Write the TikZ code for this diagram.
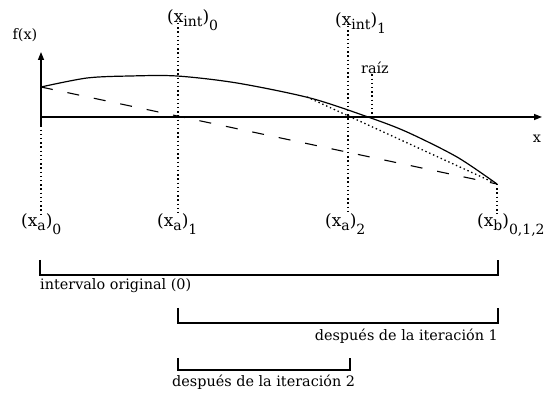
\documentclass[tikz,border=0pt]{standalone}
\usepackage{fontspec}
\setmainfont{DejaVu Serif}
\usetikzlibrary{arrows.meta}
\newcommand{\subtxt}[2][4pt]{\raisebox{-#1}{\fontsize{14}{14}\selectfont #2}}

\begin{document}
\begin{tikzpicture}[
    x=1pt, y=-1pt,
    axis/.style={line width=1.4pt, -{Triangle[length=8pt,width=6pt]}},
    curve/.style={line width=1.2pt},
    secant/.style={line width=1.1pt, dash pattern=on 12pt off 15pt},
    guide/.style={line width=1.3pt, dash pattern=on 1.4pt off 2.8pt},
    bracket/.style={line width=1.1pt},
    lbl/.style={inner sep=0pt, font=\fontsize{14.4}{16}\selectfont},
    sym/.style={inner sep=0pt, anchor=base west, font=\fontsize{17}{18}\selectfont}
]
\useasboundingbox (0,0) rectangle (558,393);

% axes
\coordinate (O) at (41,117);
\coordinate (ybot) at (41,125);
\coordinate (ytop) at (41,52);
\coordinate (xend) at (542,117);
\draw[axis] (ybot) -- (ytop);
\draw[axis] (O) -- (xend);
\node[lbl, anchor=base] (fx) at (25,40) {f(x)};
\node[lbl, anchor=base] (xlab) at (537,143) {x};

% function and secant lines
\coordinate (A) at (41,87);
\coordinate (B) at (497,184);
\coordinate (C1) at (307,97);
\draw[curve] plot[smooth] coordinates {(41,87) (87,78) (130,76) (177,76) (237,83) (310,98) (368,117) (407,132) (457,157) (497,184)};
\draw[secant] (A) -- (B);
\draw[guide] (C1) -- (B);

% labels on the x axis
\node[sym] (xint0) at (167,23) {(x\subtxt{int})\subtxt[8pt]{0}};
\node[sym] (xint1) at (335,26) {(x\subtxt{int})\subtxt[8pt]{1}};
\node[lbl, anchor=base] (raiz) at (375,74) {raíz};
\node[sym] (xa0) at (21,227) {(x\subtxt{a})\subtxt[8pt]{0}};
\node[sym] (xa1) at (157,227) {(x\subtxt{a})\subtxt[8pt]{1}};
\node[sym] (xa2) at (325,227) {(x\subtxt{a})\subtxt[8pt]{2}};
\node[sym] (xb) at (477,227) {(x\subtxt{b})\subtxt[8pt]{0,1,2}};

\coordinate (p0) at (178,117);
\coordinate (p1) at (348,117);
\coordinate (r0) at (372,117);
\draw[guide] (O) -- (O |- xa0.north);
\draw[guide] (p0 |- xint0.base) -- (p0 |- xa1.north);
\draw[guide] (p1 |- xint1.base) -- (p1 |- xa2.north);
\draw[guide] (raiz.south -| r0) -- (r0);
\draw[guide] (B) -- (B |- xb.north);

% intervals
\coordinate (L0) at (40,260);
\coordinate (R0) at (498,260);
\coordinate (L1) at (178,308);
\coordinate (R1) at (498,308);
\coordinate (L2) at (178,358);
\coordinate (R2) at (350,358);
\draw[bracket] (L0) -- ++(0,15) -| (R0);
\draw[bracket] (L1) -- ++(0,15) -| (R1);
\draw[bracket] (L2) -- ++(0,12) -| (R2);
\node[lbl, anchor=base west] (int0) at (40,290) {intervalo original (0)};
\node[lbl, anchor=base east] (int1) at (498,341) {después de la iteración 1};
\node[lbl, anchor=base west] (int2) at (172,387) {después de la iteración 2};

\end{tikzpicture}
\end{document}
